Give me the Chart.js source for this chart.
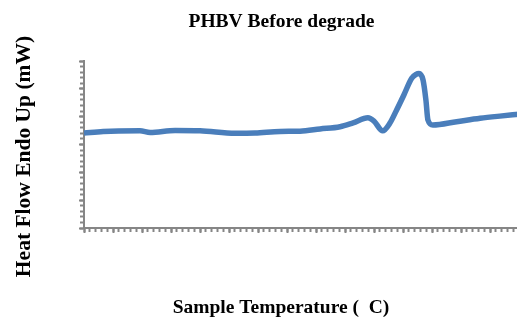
<!DOCTYPE html>
<html>
<head>
<meta charset="utf-8">
<script src="https://cdn.jsdelivr.net/npm/chart.js@4.4.0/dist/chart.umd.min.js"></script>
<style>
  html, body { margin: 0; padding: 0; background: #fff; overflow: hidden; }
  #wrap { width: 517px; height: 320px; overflow: hidden; }
</style>
</head>
<body>
<div id="wrap"><canvas id="myChart" width="519" height="320"></canvas></div>
<script>
// DSC trace
var temps    = [30, 36.6, 49.3, 52.8, 61.4, 70, 82.1, 89, 97.6, 104.5, 111.4, 118.3, 122.8, 127.9, 130, 133, 135.5, 137.8, 140.3, 143, 144.5, 145.5, 146.9, 147.9, 148.6, 150.3, 158.5, 166.6, 173.4, 180];
var heatFlow = [34.1, 34.7, 34.9, 34.3, 35.0, 34.9, 34.0, 34.1, 34.7, 34.8, 35.6, 36.4, 37.8, 39.6, 38.4, 34.9, 37.7, 42.4, 47.8, 53.8, 55.2, 55.5, 53.2, 46.0, 38.8, 37.0, 38.2, 39.4, 40.2, 40.9];

var xMin = 30, xMax = 180, xMinor = 2, xMajor = 10;
var yMin = 0, yMax = 60, yMinor = 2, yMajor = 10;

var chartTitle = "PHBV Before degrade";
var xTitle = "Sample Temperature (  C)";
var yTitle = "Heat Flow Endo Up (mW)";

var axisGrey = "#868686";

function tickAxis(pos, min, max, step, len, border) {
  return {
    type: "linear",
    position: pos,
    min: min,
    max: max,
    ticks: { display: false, autoSkip: false, maxTicksLimit: 1000 },
    afterBuildTicks: function(s){
      var t = [];
      for (var v = min; v <= max + 1e-9; v += step) t.push({ value: v });
      s.ticks = t;
    },
    grid: { display: true, drawOnChartArea: false, drawTicks: true, tickLength: len, tickWidth: 2, tickColor: axisGrey },
    border: { display: border, color: axisGrey, width: 2 },
    afterFit: function(s){ if (pos == "bottom") s.height = 0; else s.width = 0; }
  };
}

var textPlugin = {
  id: "texts",
  afterDraw: function(chart){
    var c = chart.ctx;
    c.save();
    c.fillStyle = "#000";
    c.font = "bold 19.5px 'Liberation Serif'";
    c.textAlign = "center";
    c.textBaseline = "alphabetic";
    c.fillText(chartTitle, 281.5, 27);
    c.fillText(xTitle, 281, 313);
    c.font = "bold 21.5px 'Liberation Serif'";
    c.translate(30, 156.5);
    c.rotate(-Math.PI/2);
    c.fillText(yTitle, 0, 0);
    c.restore();
  }
};

var ctx = document.getElementById("myChart").getContext("2d");
var chart = new Chart(ctx, {
  type: "line",
  data: {
    datasets: [{
      label: "PHBV",
      data: temps.map(function(t, i){ return { x: t, y: heatFlow[i] }; }),
      borderColor: "#4a7ebb",
      borderWidth: 5.5,
      pointRadius: 0,
      cubicInterpolationMode: "monotone",
      xAxisID: "x",
      yAxisID: "y"
    }]
  },
  options: {
    responsive: false,
    animation: false,
    layout: { padding: { left: 84, top: 61, right: 0, bottom: 92 } },
    plugins: { legend: { display: false }, title: { display: false }, tooltip: { enabled: false } },
    scales: {
      x: tickAxis("bottom", xMin, xMax, xMinor, 4, true),
      xMaj: tickAxis("bottom", xMin, xMax, xMajor, 5, false),
      y: tickAxis("left", yMin, yMax, yMinor, 4, true),
      yMaj: tickAxis("left", yMin, yMax, yMajor, 5, false)
    }
  },
  plugins: [textPlugin]
});
</script>
</body>
</html>
